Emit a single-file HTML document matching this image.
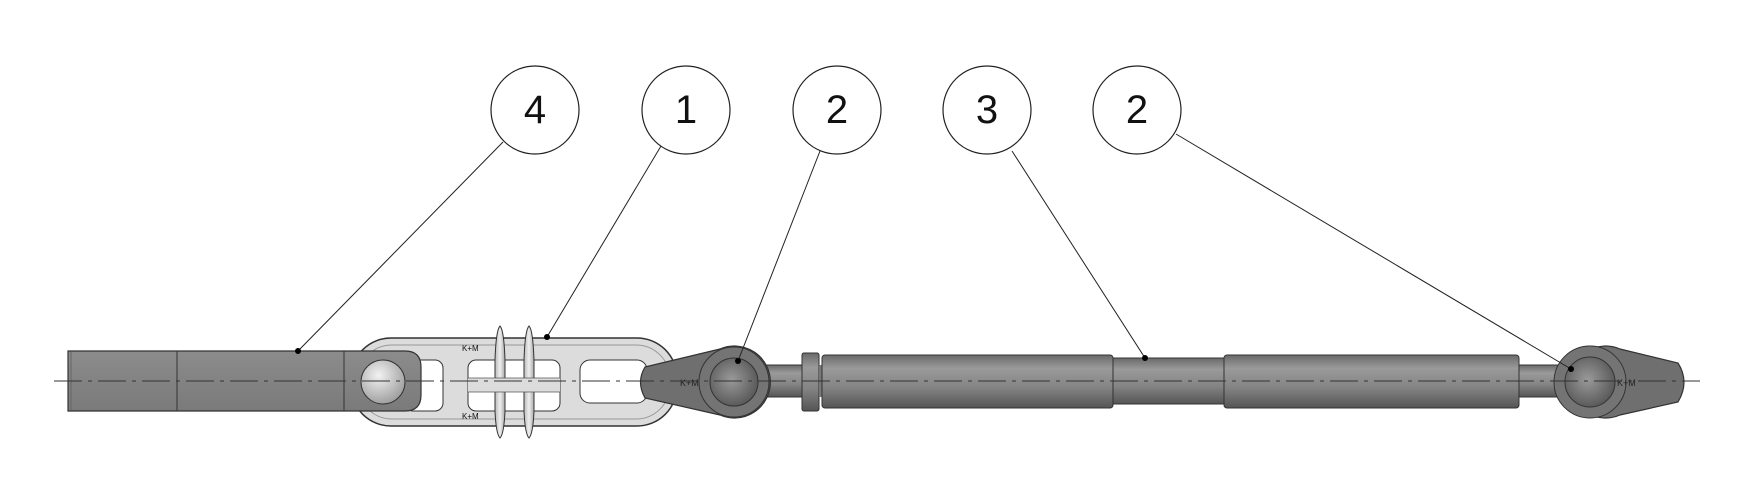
<!DOCTYPE html>
<html><head><meta charset="utf-8"><style>
html,body{margin:0;padding:0;background:#fff;width:1754px;height:499px;overflow:hidden}
svg{display:block}
text{font-family:"Liberation Sans","DejaVu Sans",sans-serif;font-size:40px;fill:#111}
</style></head><body>
<svg width="1754" height="499" viewBox="0 0 1754 499">
<defs>
<linearGradient id="tube" x1="0" y1="0" x2="0" y2="1">
<stop offset="0" stop-color="#6a6a6a"/><stop offset="0.25" stop-color="#9a9a9a"/><stop offset="0.6" stop-color="#858585"/><stop offset="1" stop-color="#555"/></linearGradient>
<linearGradient id="bar" x1="0" y1="0" x2="0" y2="1">
<stop offset="0" stop-color="#8c8c8c"/><stop offset="1" stop-color="#7a7a7a"/></linearGradient>
<linearGradient id="fin" x1="0" y1="0" x2="1" y2="0">
<stop offset="0" stop-color="#bbb"/><stop offset="0.5" stop-color="#eee"/><stop offset="1" stop-color="#aaa"/></linearGradient>
<radialGradient id="ball" cx="0.4" cy="0.35" r="0.7"><stop offset="0" stop-color="#f2f2f2"/><stop offset="1" stop-color="#9a9a9a"/></radialGradient>
<radialGradient id="pin" cx="0.45" cy="0.45" r="0.6"><stop offset="0" stop-color="#9a9a9a"/><stop offset="1" stop-color="#555"/></radialGradient>
</defs>

<!-- link (item 1) -->
<rect x="351" y="338" width="326" height="88" rx="40" fill="#dcdcdc" stroke="#333" stroke-width="1.5"/>
<rect x="358" y="345" width="312" height="74" rx="34" fill="none" stroke="#999" stroke-width="1"/>
<rect x="405" y="360" width="38" height="51" rx="8" fill="#fff" stroke="#333"/>
<rect x="468" y="360" width="92" height="51" rx="8" fill="#fff" stroke="#333"/>
<rect x="580" y="360" width="67" height="43" rx="10" fill="#fff" stroke="#333"/>
<!-- fins -->
<g fill="url(#fin)" stroke="#333" stroke-width="1">
<path d="M495 360 Q496 330 500 326 Q504 330 505 360 L505 411 Q504 434 500 438 Q496 434 495 411 Z"/>
<path d="M524 360 Q525 330 529 326 Q533 330 534 360 L534 411 Q533 434 529 438 Q525 434 524 411 Z"/>
</g>
<rect x="468" y="378" width="92" height="14" fill="#dcdcdc"/>
<line x1="468" y1="378" x2="560" y2="378" stroke="#555" stroke-width="0.8"/>
<line x1="468" y1="392" x2="560" y2="392" stroke="#555" stroke-width="0.8"/>
<text x="462" y="351" style="font-size:8px">K+M</text>
<text x="462" y="419" style="font-size:8px">K+M</text>

<!-- bar (item 4) -->
<path d="M68 351 H405 Q421 351 421 367 V395 Q421 411 405 411 H68 Z" fill="url(#bar)" stroke="#333" stroke-width="1.2"/>
<line x1="71" y1="352" x2="71" y2="410" stroke="#666"/>
<line x1="177" y1="351" x2="177" y2="411" stroke="#333"/>
<line x1="344" y1="351" x2="344" y2="411" stroke="#333"/>
<ellipse cx="383" cy="382" rx="22" ry="22" fill="url(#ball)" stroke="#333"/>

<!-- left clevis -->
<rect x="760" y="365" width="44" height="32" fill="url(#tube)" stroke="#333"/>
<path d="M645 367 L720 349 A36 36 0 1 1 720 415 L645 398 Q636 382 645 367 Z" fill="#6f6f6f" stroke="#333" stroke-width="1.2"/>
<circle cx="734" cy="382" r="35" fill="#747474" stroke="#333"/>
<circle cx="734" cy="382" r="24" fill="url(#pin)" stroke="#333"/>
<text x="680" y="386" style="font-size:9px;fill:#222">K+M</text>

<!-- turnbuckle (item 3) -->
<rect x="802" y="353" width="17" height="58" rx="2" fill="url(#tube)" stroke="#333"/>
<rect x="819" y="365" width="4" height="32" fill="#777"/>
<rect x="822" y="355" width="291" height="53" rx="3" fill="url(#tube)" stroke="#333"/>
<rect x="1113" y="358" width="111" height="46" fill="url(#tube)" stroke="#333"/>
<rect x="1224" y="355" width="295" height="53" rx="3" fill="url(#tube)" stroke="#333"/>
<rect x="1519" y="365" width="40" height="32" fill="url(#tube)" stroke="#333"/>

<!-- right clevis -->
<path d="M1620 349 L1678 363 Q1690 382 1678 402 L1620 415 A36 36 0 1 1 1620 349 Z" fill="#6f6f6f" stroke="#333" stroke-width="1.2"/>
<circle cx="1590" cy="382" r="36" fill="#747474" stroke="#333"/>
<circle cx="1590" cy="382" r="25" fill="url(#pin)" stroke="#333"/>
<text x="1617" y="386" style="font-size:9px;fill:#222">K+M</text>

<!-- centerline -->
<line x1="54" y1="381" x2="1700" y2="381" stroke="#333" stroke-width="1" stroke-dasharray="28,6,4,6"/>

<!-- balloons -->
<g fill="#fff" stroke="#222" stroke-width="1.2">
<circle cx="535" cy="110" r="44"/><circle cx="686" cy="110" r="44"/><circle cx="837" cy="110" r="44"/><circle cx="987" cy="110" r="44"/><circle cx="1137" cy="110" r="44"/>
</g>
<g text-anchor="middle" style="font-size:36px">
<text x="535" y="123">4</text><text x="686" y="123">1</text><text x="837" y="123">2</text><text x="987" y="123">3</text><text x="1137" y="123">2</text>
</g>
<!-- leaders -->
<g stroke="#222" stroke-width="1">
<line x1="503" y1="142" x2="298" y2="351"/>
<line x1="661" y1="146" x2="547" y2="337"/>
<line x1="820" y1="151" x2="738" y2="361"/>
<line x1="1012" y1="151" x2="1145" y2="358"/>
<line x1="1176" y1="134" x2="1571" y2="369"/>
</g>
<g fill="#000">
<circle cx="298" cy="351" r="3"/><circle cx="547" cy="337" r="3"/><circle cx="738" cy="361" r="3"/><circle cx="1145" cy="358" r="3"/><circle cx="1571" cy="369" r="3"/>
</g>
</svg>
</body></html>
